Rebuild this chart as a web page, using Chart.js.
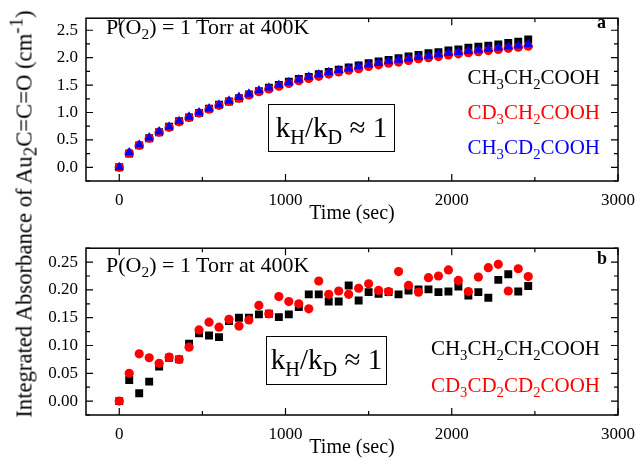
<!DOCTYPE html>
<html lang="en">

<head>
  <meta charset="UTF-8">
  <title>Au2C=C=O absorbance</title>
  <style>
    body { margin: 0; background: #fff; }
    #wrap { position: relative; width: 644px; height: 464px; font-family: "Liberation Serif", "DejaVu Serif", serif; }
    .pane { position: absolute; left: 0; }
    .txt { position: absolute; white-space: nowrap; line-height: 1; }
    .txt sub { font-size: 70%; vertical-align: -0.35em; line-height: 0; }
    .txt sup { font-size: 70%; vertical-align: 0.55em; line-height: 0; }
    .cond { font-size: 22px; left: 106px; }
    .box { border: 1.5px solid #000; font-size: 29px; text-align: center; box-sizing: border-box; }
    .leg { font-size: 21px; right: 44px; }
    .tag { font-size: 18px; font-weight: bold; left: 597px; }
    #ytitle { position: absolute; font-size: 22.7px; white-space: nowrap; line-height: 1;
      left: 24px; top: 214px; transform: translate(-50%, -50%) rotate(-90deg); }
  </style>
</head>

<body>
  <div id="wrap">
    <div class="pane" style="top:0"><canvas id="chartA" width="644" height="230"></canvas></div>
    <div class="pane" style="top:230px"><canvas id="chartB" width="644" height="234"></canvas></div>

    <div id="ytitle">Integrated Absorbance of Au<sub>2</sub>C=C=O (cm<sup>-1</sup>)</div>

    <div class="txt cond" style="top:16px">P(O<sub>2</sub>) = 1 Torr at 400K</div>
    <div class="txt tag" style="top:13px">a</div>
    <div class="txt box" style="left:268px; top:104px; width:127px; height:48px; padding-top:8px">k<sub>H</sub>/k<sub>D</sub> &#8776; 1</div>
    <div class="txt leg" style="top:67px; color:#000">CH<sub>3</sub>CH<sub>2</sub>COOH</div>
    <div class="txt leg" style="top:102px; color:#ff0000">CD<sub>3</sub>CH<sub>2</sub>COOH</div>
    <div class="txt leg" style="top:137px; color:#0000ff">CH<sub>3</sub>CD<sub>2</sub>COOH</div>

    <div class="txt cond" style="top:254px">P(O<sub>2</sub>) = 1 Torr at 400K</div>
    <div class="txt tag" style="top:249px">b</div>
    <div class="txt box" style="left:266px; top:336px; width:121px; height:49px; padding-top:8px">k<sub>H</sub>/k<sub>D</sub> &#8776; 1</div>
    <div class="txt leg" style="top:338px; color:#000">CH<sub>3</sub>CH<sub>2</sub>CH<sub>2</sub>COOH</div>
    <div class="txt leg" style="top:375px; color:#ff0000">CD<sub>3</sub>CD<sub>2</sub>CD<sub>2</sub>COOH</div>
  </div>

  <!-- Chart.js -->
  <script src="https://cdn.jsdelivr.net/npm/chart.js@4.4.1/dist/chart.umd.min.js"></script>

  <script>
    // time axis (sec)
    const times = [0, 60, 120, 180, 240, 300, 360, 420, 480, 540, 600, 660, 720, 780,
      840, 900, 960, 1020, 1080, 1140, 1200, 1260, 1320, 1380, 1440, 1500, 1560, 1620,
      1680, 1740, 1800, 1860, 1920, 1980, 2040, 2100, 2160, 2220, 2280, 2340, 2400, 2460]

    // panel a: propanoic acid isotopologues
    const aBlack = [0.00, 0.25, 0.40, 0.53, 0.64, 0.74, 0.84, 0.91, 0.99, 1.07, 1.14, 1.20, 1.26, 1.33,
      1.39, 1.45, 1.50, 1.56, 1.61, 1.65, 1.70, 1.74, 1.78, 1.82, 1.86, 1.90, 1.93, 1.96,
      1.99, 2.02, 2.05, 2.08, 2.10, 2.13, 2.15, 2.18, 2.20, 2.22, 2.24, 2.27, 2.29, 2.33]
    const aRed = [0.00, 0.26, 0.40, 0.53, 0.64, 0.73, 0.83, 0.91, 0.99, 1.06, 1.13, 1.20, 1.26, 1.32,
      1.38, 1.43, 1.48, 1.53, 1.58, 1.62, 1.66, 1.70, 1.74, 1.77, 1.80, 1.84, 1.87, 1.90,
      1.92, 1.95, 1.98, 2.00, 2.02, 2.05, 2.07, 2.09, 2.11, 2.13, 2.15, 2.17, 2.19, 2.21]
    const aBlue = [0.00, 0.27, 0.41, 0.54, 0.65, 0.74, 0.84, 0.92, 1.00, 1.07, 1.14, 1.21, 1.28, 1.34,
      1.40, 1.45, 1.50, 1.55, 1.60, 1.65, 1.69, 1.73, 1.77, 1.80, 1.84, 1.87, 1.90, 1.93,
      1.96, 1.98, 2.01, 2.03, 2.06, 2.08, 2.10, 2.12, 2.14, 2.16, 2.18, 2.20, 2.22, 2.24]

    // panel b: butanoic acid isotopologues
    const bBlack = [0.000, 0.038, 0.014, 0.035, 0.062, 0.078, 0.075, 0.103, 0.122, 0.118, 0.115, 0.144, 0.150, 0.150,
      0.156, 0.157, 0.151, 0.156, 0.169, 0.192, 0.192, 0.179, 0.179, 0.208, 0.181, 0.196, 0.193, 0.196,
      0.192, 0.199, 0.201, 0.201, 0.196, 0.197, 0.206, 0.190, 0.196, 0.186, 0.218, 0.228, 0.197, 0.207]
    const bRed = [0.000, 0.050, 0.085, 0.078, 0.068, 0.079, 0.075, 0.097, 0.128, 0.142, 0.133, 0.147, 0.135, 0.146,
      0.172, 0.157, 0.188, 0.179, 0.175, 0.166, 0.216, 0.192, 0.198, 0.192, 0.203, 0.211, 0.199, 0.197,
      0.233, 0.208, 0.196, 0.222, 0.225, 0.236, 0.217, 0.197, 0.223, 0.240, 0.246, 0.198, 0.238, 0.224]

    // tick labels
    const xTicks = [0, 1000, 2000, 3000]
    const yTicksA = [0, 0.5, 1.0, 1.5, 2.0, 2.5]
    const yTicksB = [0, 0.05, 0.10, 0.15, 0.20, 0.25]

    const serif = "'Liberation Serif', 'Times New Roman', serif"
    const pts = arr => arr.map((v, i) => ({ x: times[i], y: v }))

    // box round the plot with inward ticks on all four sides
    const frame = {
      id: 'frame',
      afterDatasetsDraw(chart, args, opts) {
        const { ctx, chartArea: a, scales: { x, y } } = chart
        ctx.save()
        ctx.strokeStyle = '#000'
        ctx.lineWidth = 1.5
        ctx.strokeRect(a.left, a.top, a.right - a.left, a.bottom - a.top)
        ctx.lineWidth = 1.2
        ctx.beginPath()
        const start = (min, step) => Math.ceil(min / step - 1e-9) * step
        for (let v = start(x.min, opts.xMinor); v <= x.max + 1e-9; v += opts.xMinor) {
          const px = x.getPixelForValue(v)
          const len = Math.abs(v % (opts.xMinor * 2)) < 1e-6 ? 7 : 4
          ctx.moveTo(px, a.bottom); ctx.lineTo(px, a.bottom - len)
          ctx.moveTo(px, a.top); ctx.lineTo(px, a.top + len)
        }
        for (let k = 0; ; k++) {
          const v = start(y.min, opts.yMinor) + k * opts.yMinor
          if (v > y.max + 1e-9) break
          const py = y.getPixelForValue(v)
          const len = Math.abs(v / (opts.yMinor * 2) - Math.round(v / (opts.yMinor * 2))) < 1e-6 ? 7 : 4
          ctx.moveTo(a.left, py); ctx.lineTo(a.left + len, py)
          ctx.moveTo(a.right, py); ctx.lineTo(a.right - len, py)
        }
        ctx.stroke()
        ctx.restore()
      }
    }

    function makeOptions(yMin, yMax, yTicks, digits, padTop, yMinor) {
      return {
        responsive: false,
        animation: false,
        devicePixelRatio: 1,
        layout: { padding: { left: 0, right: 19, top: padTop, bottom: 0 } },
        plugins: {
          legend: { display: false },
          tooltip: { enabled: false },
          frame: { xMinor: 500, yMinor: yMinor }
        },
        scales: {
          x: {
            type: 'linear',
            min: -200,
            max: 3000,
            afterBuildTicks: s => { s.ticks = xTicks.map(v => ({ value: v })) },
            afterFit: s => { s.height = 49 },
            grid: { display: false, drawTicks: false },
            border: { display: false },
            ticks: {
              color: '#000',
              padding: 9,
              font: { family: serif, size: 17 },
              callback: v => String(v)
            },
            title: {
              display: true,
              text: 'Time (sec)',
              color: '#000',
              padding: { top: 0, bottom: 4 },
              font: { family: serif, size: 20 }
            }
          },
          y: {
            min: yMin,
            max: yMax,
            afterBuildTicks: s => { s.ticks = yTicks.map(v => ({ value: v })) },
            afterFit: s => { s.width = 86 },
            grid: { display: false, drawTicks: false },
            border: { display: false },
            ticks: {
              color: '#000',
              padding: 8,
              font: { family: serif, size: 17 },
              callback: v => v.toFixed(digits)
            }
          }
        }
      }
    }

    new Chart(document.getElementById('chartA').getContext('2d'), {
      type: 'scatter',
      data: {
        datasets: [
          { label: 'CH3CH2COOH', data: pts(aBlack), pointStyle: 'rect', pointRadius: 5.6, backgroundColor: '#000', borderColor: '#000', borderWidth: 0, order: 3 },
          { label: 'CD3CH2COOH', data: pts(aRed), pointStyle: 'circle', pointRadius: 4.6, backgroundColor: '#ff0000', borderColor: '#ff0000', borderWidth: 0, order: 2 },
          { label: 'CH3CD2COOH', data: pts(aBlue), pointStyle: 'triangle', pointRadius: 5.6, backgroundColor: '#0000ff', borderColor: '#0000ff', borderWidth: 0, order: 1 }
        ]
      },
      options: makeOptions(-0.25, 2.72, yTicksA, 1, 3, 0.25),
      plugins: [frame]
    })

    new Chart(document.getElementById('chartB').getContext('2d'), {
      type: 'scatter',
      data: {
        datasets: [
          { label: 'CH3CH2CH2COOH', data: pts(bBlack), pointStyle: 'rect', pointRadius: 5.6, backgroundColor: '#000', borderColor: '#000', borderWidth: 0, order: 2 },
          { label: 'CD3CD2CD2COOH', data: pts(bRed), pointStyle: 'circle', pointRadius: 4.6, backgroundColor: '#ff0000', borderColor: '#ff0000', borderWidth: 0, order: 1 }
        ]
      },
      options: makeOptions(-0.025, 0.275, yTicksB, 2, 5, 0.025),
      plugins: [frame]
    })
  </script>
</body>

</html>
